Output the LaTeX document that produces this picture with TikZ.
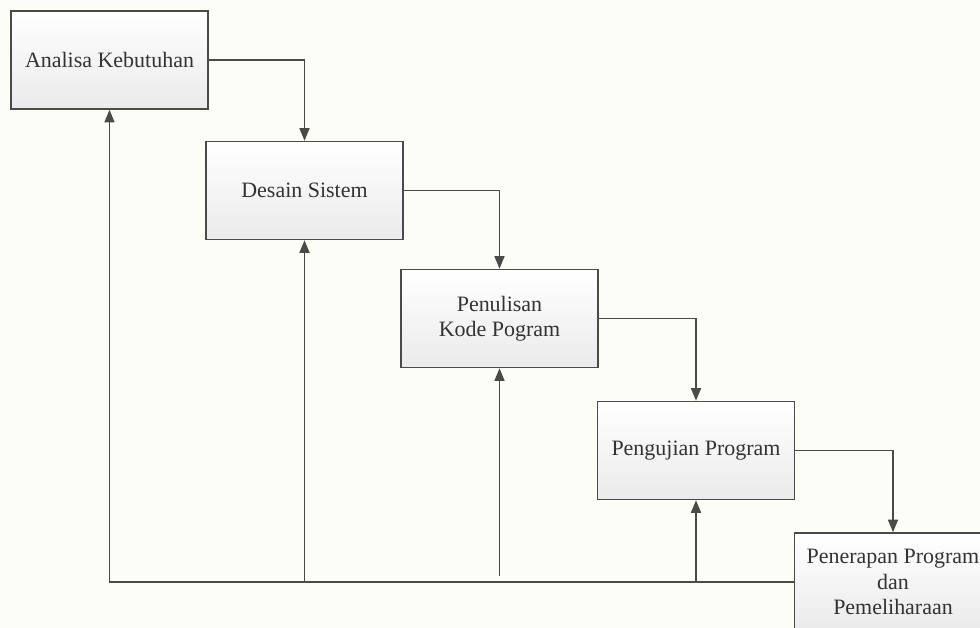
\documentclass[tikz,border=0pt]{standalone}
\usepackage{fontspec}
\setmainfont{Liberation Serif}
\usepackage[dvipsnames]{xcolor}
\usetikzlibrary{arrows.meta}
\definecolor{paper}{HTML}{FDFDF8}
\definecolor{edge}{HTML}{4A4A48}
\tikzset{
  stage/.style={draw=edge,line width=.9pt,top color=white,bottom color=black!8,
    minimum width=3.94cm,minimum height=1.96cm,align=center,font=\fontsize{12.5}{14.5}\selectfont,text=black!80},
  flow/.style={draw=edge,line width=.8pt,-{Triangle[length=2.5mm,width=2mm]}}
}
\begin{document}
\begin{tikzpicture}[x=.02cm,y=-.02cm]
      \fill[paper] (0,0) rectangle (980,628);
      \useasboundingbox (0,0) rectangle (980,628);
      \clip (0,0) rectangle (980,628);
      \node[stage] (analisa) at (109.5,60) {Analisa Kebutuhan};
      \node[stage] (desain) at (304.5,190.5) {Desain Sistem};
      \node[stage] (kode) at (499.5,318.5) {Penulisan\\Kode Pogram};
      \node[stage] (uji) at (696,450.5) {Pengujian Program};
      \node[stage] (terap) at (893,582) {Penerapan Program\\dan\\Pemeliharaan};
      \draw[flow] (analisa) -| (desain);
      \draw[flow] (desain) -| (kode);
      \draw[flow] (kode) -| (uji);
      \draw[flow] (uji) -| (terap);
      \draw[flow] (terap.west) -| (analisa.south);
      \draw[flow] (desain.south |- terap.west) -- (desain.south);
      \draw[flow] ([yshift=.12cm]kode.south |- terap.west) -- (kode.south);
      \draw[flow] (uji.south |- terap.west) -- (uji.south);
    \end{tikzpicture}
\end{document}
